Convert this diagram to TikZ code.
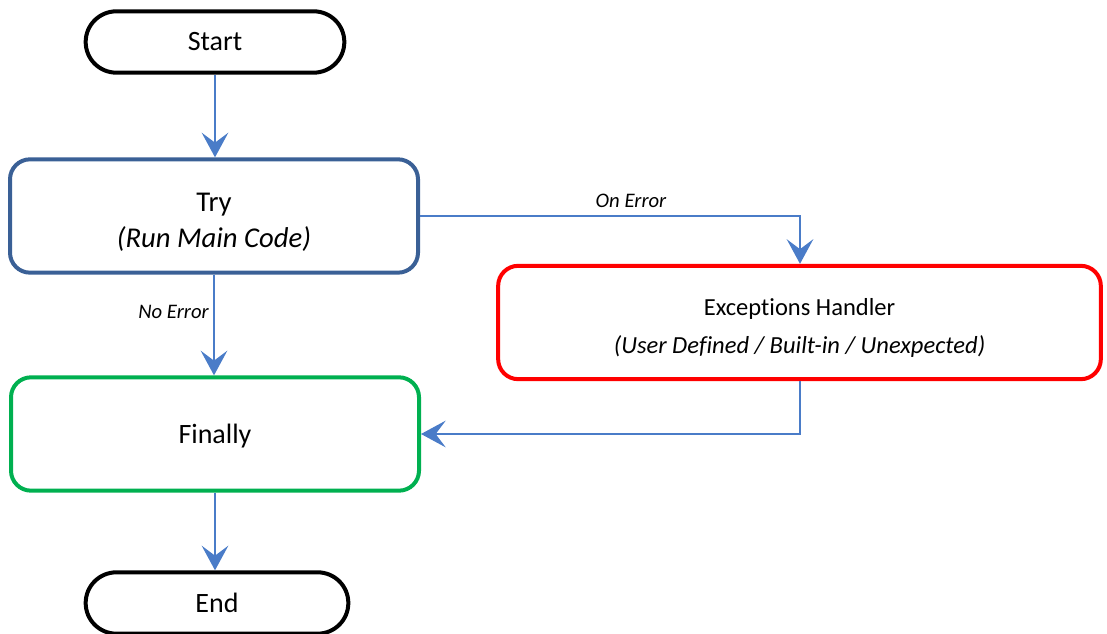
\documentclass[tikz,border=0pt]{standalone}
\usepackage{fontspec}
\setmainfont{Carlito}[Ligatures={NoCommon}]
\usetikzlibrary{arrows.meta,shapes.misc}
\definecolor{trybl}{HTML}{3A6096}
\definecolor{arrbl}{HTML}{4A7CC8}
\definecolor{finok}{HTML}{00B050}
\tikzset{
  terminal/.style={rounded rectangle, draw=black, line width=3pt, inner sep=0pt,
    minimum width=194pt, minimum height=46pt, font=\fontsize{21}{25}\selectfont},
  procbox/.style={line width=3pt, rounded corners=15pt, inner sep=0pt,
    minimum width=306pt, minimum height=85pt},
  boxtext/.style={align=center, inner sep=0pt, font=\fontsize{21}{27}\selectfont},
  flow/.style={draw=arrbl, line width=1.1pt,
    -{Stealth[length=18.5pt,width=20pt,inset=7.5pt]}},
  lbl/.style={font=\fontsize{15.5}{18}\selectfont\itshape, inner sep=0pt}
}
\begin{document}
\begin{tikzpicture}[x=0.75pt,y=-0.75pt]
\useasboundingbox (0,0) rectangle (1107,634);
% terminals
\node[terminal] (start) at (215,42) {Start};
\node[terminal, minimum width=197pt] (end) at (217,603) {End};
% process boxes and their texts
\node[procbox, draw=trybl] (try) at (214,216) {};
\node[boxtext, font=\fontsize{21.5}{27}\selectfont] (trytxt)
  at ([yshift=-4.5pt]try.center) {Try\\\textit{(Run Main Code)}};
\node[procbox, draw=red, minimum width=452pt] (exc) at (799.5,322.5) {};
\node[boxtext, font=\fontsize{18.4}{28.5}\selectfont] (exctxt)
  at ([yshift=-4pt]exc.center)
  {Exceptions Handler\\\textit{(User Defined / Built-in / Unexpected)}};
\node[procbox, draw=finok] (fin) at (215,434) {};
\node[boxtext] (fintxt) at ([yshift=-1.5pt]fin.center) {Finally};
% connector labels
\node[lbl] (onerr) at (631,201) {On Error};
\node[lbl, anchor=east] (noerr) at (209,312) {No Error};
% connectors
\coordinate (bend1) at (800,216);
\coordinate (bend2) at (800,434);
\draw[flow] (start.south) -- (start.south |- try.north);
\draw[flow] (try.east) -- (bend1) -- (exc.north -| bend1);
\draw[flow] (try.south) -- (try.south |- fin.north);
\draw[flow] (exc.south -| bend2) -- (bend2) -- (fin.east);
\draw[flow] (fin.south) -- (fin.south |- end.north);
\end{tikzpicture}
\end{document}
